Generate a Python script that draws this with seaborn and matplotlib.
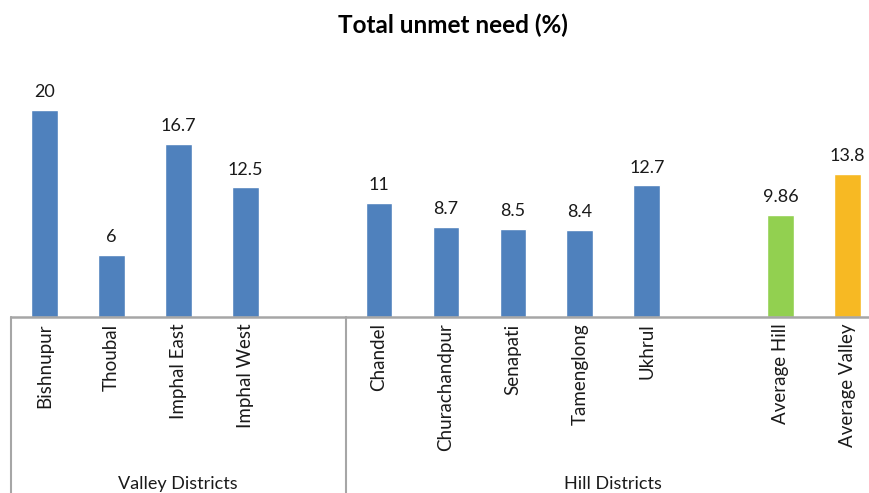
import matplotlib
matplotlib.use("Agg")
import matplotlib.pyplot as plt
import matplotlib.transforms as mtransforms
import seaborn as sns
import pandas as pd

# Categories in display order; blank slots separate the groups
districts = ["Bishnupur", "Thoubal", "Imphal East", "Imphal West",
             "Chandel", "Churachandpur", "Senapati", "Tamenglong", "Ukhrul",
             "Average Hill", "Average Valley"]
unmet_need = [20, 6, 16.7, 12.5, 11, 8.7, 8.5, 8.4, 12.7, 9.86, 13.8]
slot_order = ["Bishnupur", "Thoubal", "Imphal East", "Imphal West", " ",
              "Chandel", "Churachandpur", "Senapati", "Tamenglong", "Ukhrul", "  ",
              "Average Hill", "Average Valley"]
group_names = ["Valley Districts", "Hill Districts"]
group_spans = [(0, 4), (5, 12)]

blue, green, amber = "#4F81BD", "#92D050", "#F7B923"
palette = {d: blue for d in districts}
palette["Average Hill"] = green
palette["Average Valley"] = amber

df = pd.DataFrame({"district": districts, "value": unmet_need})

sns.set_theme(style="white")
plt.rcParams["font.family"] = ["Lato", "DejaVu Sans"]

W, H = 870, 493
fig = plt.figure(figsize=(W / 100, H / 100), dpi=100)
left, right = 11 / W, 881 / W
bottom, top = (H - 316.5) / H, (H - 58.3) / H
ax = fig.add_axes([left, bottom, right - left, top - bottom])

sns.barplot(data=df, x="district", y="value", hue="district", order=slot_order,
            palette=palette, width=0.4, legend=False, saturation=1, ax=ax)

for cont in ax.containers:
    ax.bar_label(cont, fmt="%g", padding=7, fontsize=13, color="#1a1a1a")

ax.set_xlim(-0.5, len(slot_order) - 0.5)
ax.set_ylim(0, 25)
ax.set_xlabel("")
ax.set_ylabel("")
ax.set_yticks([])
ax.tick_params(axis="x", length=0, pad=5, labelsize=13.5, labelcolor="#1a1a1a")
labels = [s if s.strip() else "" for s in slot_order]
ax.set_xticks(range(len(slot_order)))
ax.set_xticklabels(labels, rotation=90, va="top", ha="center")

for side in ["top", "right", "left"]:
    ax.spines[side].set_visible(False)
ax.spines["bottom"].set_color("#a6a6a6")
ax.spines["bottom"].set_linewidth(1.8)

# Group dividers and group captions below the category labels
trans = mtransforms.blended_transform_factory(ax.transData, ax.transAxes)
axes_h_px = 316.5 - 58.3
y_bottom = -(H - 316.5) / axes_h_px
for x in [-0.5, 4.5, 12.5]:
    ax.plot([x, x], [0, y_bottom], transform=trans, color="#a6a6a6",
            lw=1.5, clip_on=False)
for name, (a, b) in zip(group_names, group_spans):
    ax.text((a + b) / 2, -(484 - 316.5) / axes_h_px, name, transform=trans,
            ha="center", va="center", fontsize=13, color="#1a1a1a")

fig.text(453 / W, 1 - 25 / H, "Total unmet need (%)", ha="center", va="center",
         fontsize=17.5, fontweight="bold", color="#000000")

fig.savefig("out.png", dpi=100)
